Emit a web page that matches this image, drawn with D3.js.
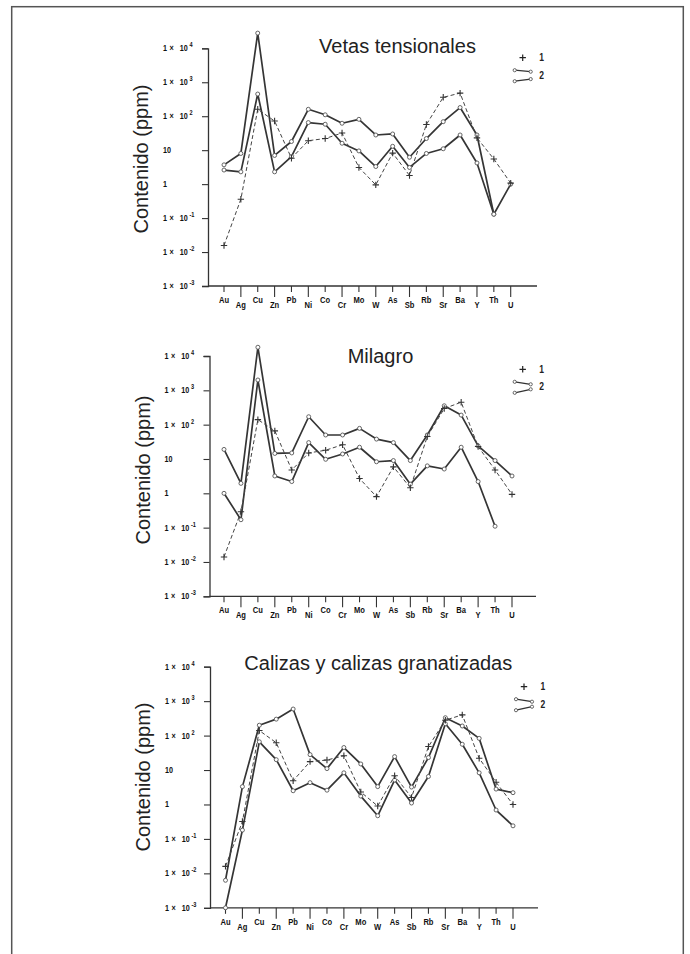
<!DOCTYPE html>
<html><head><meta charset="utf-8">
<script src="https://cdn.jsdelivr.net/npm/d3@7"></script>
<style>body{margin:0;background:#fff}svg{display:block}</style>
</head><body>
<script>
// ---------- data ----------
const categories = ["Au","Ag","Cu","Zn","Pb","Ni","Co","Cr","Mo","W","As","Sb","Rb","Sr","Ba","Y","Th","U"];
const tickValues = [1e-3, 1e-2, 1e-1, 1, 10, 1e2, 1e3, 1e4];
const tickLabels = ["1 × 10^-3","1 × 10^-2","1 × 10^-1","1","10","1 × 10^2","1 × 10^3","1 × 10^4"];
const titles = ["Vetas tensionales", "Milagro", "Calizas y calizas granatizadas"];
const legendLabels = ["1", "2"];
const yLabel = "Contenido (ppm)";

// Vetas tensionales
const vetasSerie1   = [0.0156, 0.36, 160, 72, 5.8, 19, 22, 32, 3.1, 0.95, 8.2, 1.8, 57, 360, 480, 23, 5.5, 1.07];
const vetasSerie2Hi = [3.7, 8, 28000, 7, 18, 160, 110, 62, 81, 28, 30, 6.2, 22, 69, 180, 28, 0.13, 1.0];
const vetasSerie2Lo = [2.6, 2.3, 450, 2.3, 6.5, 65, 58, 16, 9.5, 3.3, 13, 3.1, 8, 11, 28, 4.2, 0.13, null];
// Milagro
const milagroSerie1   = [0.014, 0.29, 140, 66, 4.8, 15, 18, 26, 2.7, 0.8, 5.9, 1.45, 45, 295, 450, 23, 4.8, 0.93];
const milagroSerie2Hi = [19, 1.95, 18000, 14.5, 15, 170, 50, 50, 78, 38, 30, 9, 50, 355, 190, 24, 9, 3.2];
const milagroSerie2Lo = [1.0, 0.17, 2000, 3.2, 2.2, 30, 9.8, 14, 22, 8.3, 9, 1.85, 6.3, 5.1, 22, 2.2, 0.11, null];
// Calizas y calizas granatizadas
const calizasSerie1   = [0.016, 0.32, 140, 62, 4.9, 17.5, 19.5, 26, 2.3, 0.9, 6.8, 1.6, 48, 280, 400, 22, 4.4, 1.0];
const calizasSerie2Hi = [0.0063, 3.3, 200, 300, 590, 28, 11, 45, 15, 3.3, 24.5, 3.2, 23, 330, 190, 83, 2.8, 2.2];
const calizasSerie2Lo = [0.001, 0.18, 66, 20, 2.5, 4.3, 2.6, 8.3, 1.75, 0.47, 5.1, 1.1, 6.5, 220, 56, 8.3, 0.69, 0.24];

// ---------- layout ----------
const W = 690, H = 954;
const panels = [
  {title: titles[0], s1: vetasSerie1, hi: vetasSerie2Hi, lo: vetasSerie2Lo,
   top: 48.3, bottom: 286, axisX: 208, x0: 224, x1: 510.7, xEnd: 537,
   titleX: 397.5, titleY: 52.5, yLabelY: 159, legX: 522.7, legY: 57.7, spread: 0.6},
  {title: titles[1], s1: milagroSerie1, hi: milagroSerie2Hi, lo: milagroSerie2Lo,
   top: 356, bottom: 596.3, axisX: 209.5, x0: 224, x1: 512, xEnd: 536,
   titleX: 380.5, titleY: 363.3, yLabelY: 470, legX: 522.7, legY: 369.3, spread: 1},
  {title: titles[2], s1: calizasSerie1, hi: calizasSerie2Hi, lo: calizasSerie2Lo,
   top: 666.7, bottom: 907.8, axisX: 210, x0: 225.5, x1: 513, xEnd: 538,
   titleX: 378.3, titleY: 669.5, yLabelY: 777, legX: 524, legY: 686.7, spread: 1}
];

const svg = d3.select("body").append("svg").attr("width", W).attr("height", H);
svg.append("rect").attr("width", W).attr("height", H).attr("fill", "#fff");
// outer frame
svg.append("rect").attr("x", 11.7).attr("y", 6.7).attr("width", 671.6).attr("height", 970)
  .attr("fill", "none").attr("stroke", "#555").attr("stroke-width", 1.5);

const ink = "#333";
const plusPath = "M-3.2,0H3.2M0,-3.2V3.2";

panels.forEach(p => {
  const g = svg.append("g");
  const x = d3.scalePoint().domain(categories).range([p.x0, p.x1]);
  const y = d3.scaleLog().domain([1e-3, 1e4]).range([p.bottom, p.top]);

  // title
  g.append("text").attr("x", p.titleX).attr("y", p.titleY).attr("text-anchor", "middle")
    .attr("font-family", "Liberation Sans, Arial, sans-serif").attr("font-size", 20)
    .attr("fill", "#222").text(p.title);

  // y label
  g.append("text").attr("transform", `translate(${p.axisX - 60},${p.yLabelY}) rotate(-90)`)
    .attr("text-anchor", "middle").attr("font-family", "Liberation Sans, Arial, sans-serif")
    .attr("font-size", 20).attr("fill", "#222").text(yLabel);

  // y axis
  const yAxis = d3.axisLeft(y).tickValues(tickValues).tickSize(6).tickFormat("");
  const ya = g.append("g").attr("transform", `translate(${p.axisX},0)`).call(yAxis);
  ya.select(".domain").attr("stroke", ink).attr("stroke-width", 1.3);
  ya.selectAll(".tick line").attr("stroke", ink).attr("stroke-width", 1.1);

  // y tick labels
  tickValues.forEach((v, i) => {
    const parts = tickLabels[i].split("^");
    const lx = p.axisX - 45, ly = y(v) + 3;
    const tg = g.append("g").attr("transform", `translate(${lx},${ly}) scale(0.8,1)`);
    const t = tg.append("text").attr("font-family", "Liberation Sans, Arial, sans-serif")
      .attr("font-weight", "bold").attr("font-size", 9).attr("fill", "#111");
    if (parts.length === 1) {
      t.text(parts[0]);
    } else {
      const base = parts[0].split(" ");
      t.append("tspan").attr("x", 0).text(base[0]);
      t.append("tspan").attr("x", 8).text(base[1]);
      t.append("tspan").attr("x", 21).text(base[2]);
      t.append("tspan").attr("x", 33).attr("dy", -4).attr("font-size", 7).text(parts[1]);
    }
  });

  // x axis line
  g.append("line").attr("x1", p.axisX).attr("x2", p.xEnd).attr("y1", p.bottom).attr("y2", p.bottom)
    .attr("stroke", ink).attr("stroke-width", 1.3);
  // x ticks & labels (staggered)
  categories.forEach((c, i) => {
    const cx = x(c);
    const low = i % 2 === 1;
    g.append("line").attr("x1", cx).attr("x2", cx).attr("y1", p.bottom)
      .attr("y2", p.bottom + (low ? 11 : 6)).attr("stroke", ink).attr("stroke-width", 1.1);
    g.append("g").attr("transform", `translate(${cx},${p.bottom + (low ? 22 : 16.7)}) scale(0.8,1)`)
      .append("text").attr("text-anchor", "middle")
      .attr("font-family", "Liberation Sans, Arial, sans-serif").attr("font-weight", "bold")
      .attr("font-size", 9.5).attr("fill", "#111").text(c);
  });

  const line = d3.line().defined(d => d != null)
    .x((d, i) => x(categories[i])).y(d => y(d));

  // series 2 (solid, two bounds)
  [p.hi, p.lo].forEach(s => {
    g.append("path").datum(s).attr("d", line).attr("fill", "none")
      .attr("stroke", "#353535").attr("stroke-width", 1.7).attr("stroke-linejoin", "round");
  });
  // series 1 (dashed)
  g.append("path").datum(p.s1).attr("d", line).attr("fill", "none")
    .attr("stroke", "#444").attr("stroke-width", 1).attr("stroke-dasharray", "4,2.5");

  // markers
  [p.hi, p.lo].forEach(s => {
    g.selectAll(null).data(s.map((v, i) => ({v, c: categories[i]})).filter(d => d.v != null))
      .enter().append("circle").attr("cx", d => x(d.c)).attr("cy", d => y(d.v)).attr("r", 2)
      .attr("fill", "#fff").attr("stroke", "#555").attr("stroke-width", 0.9);
  });
  g.selectAll(null).data(p.s1.map((v, i) => ({v, c: categories[i]})))
    .enter().append("path").attr("d", plusPath)
    .attr("transform", d => `translate(${x(d.c)},${y(d.v)})`)
    .attr("stroke", "#333").attr("stroke-width", 1.1);

  // legend
  const lg = g.append("g").attr("transform", `translate(${p.legX},${p.legY})`);
  lg.append("path").attr("d", plusPath).attr("stroke", "#222").attr("stroke-width", 1.2);
  const sp = p.spread;
  const l1 = [[-8, 12.5], [8, 12.5 + 2.5 * sp]];
  const l2 = [[-8, 23.5], [8, 23.5 - 3.5 * sp]];
  [l1, l2].forEach(pts => {
    lg.append("line").attr("x1", pts[0][0]).attr("y1", pts[0][1]).attr("x2", pts[1][0]).attr("y2", pts[1][1])
      .attr("stroke", "#333").attr("stroke-width", 1.3);
    pts.forEach(pt => lg.append("circle").attr("cx", pt[0]).attr("cy", pt[1]).attr("r", 1.6)
      .attr("fill", "#fff").attr("stroke", "#555").attr("stroke-width", 0.9));
  });
  [[legendLabels[0], 3.5], [legendLabels[1], 21]].forEach(([t, dy]) => {
    lg.append("g").attr("transform", `translate(16.5,${dy}) scale(0.85,1)`)
      .append("text").attr("font-family", "Liberation Sans, Arial, sans-serif")
      .attr("font-weight", "bold").attr("font-size", 10).attr("fill", "#222").text(t);
  });
});
</script>
</body></html>
